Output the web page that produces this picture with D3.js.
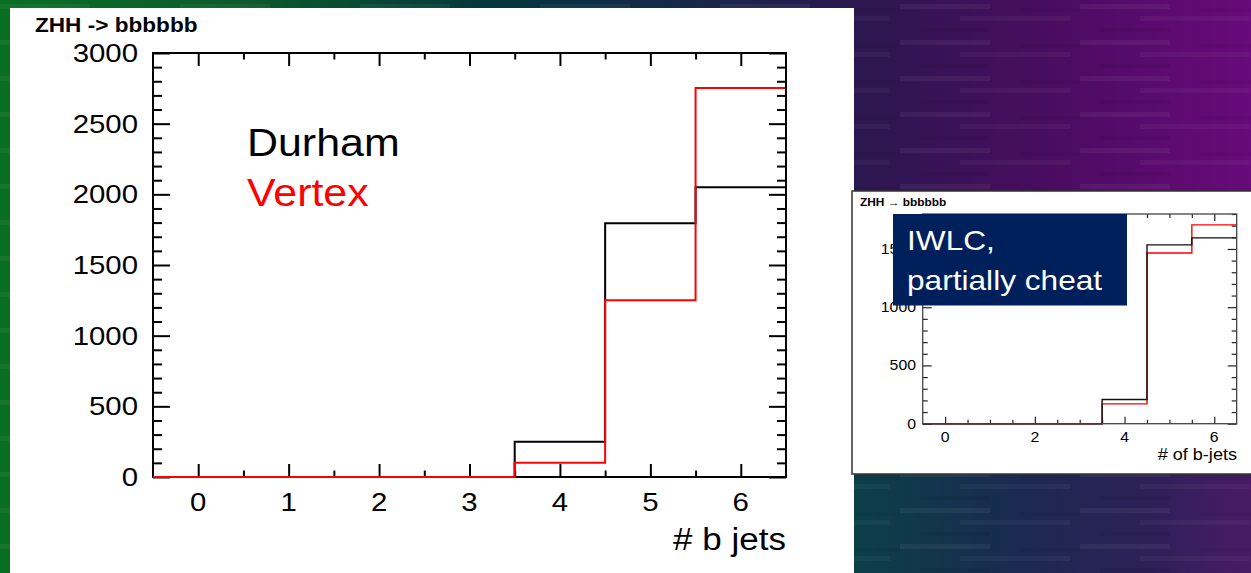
<!DOCTYPE html>
<html><head><meta charset="utf-8">
<script src="https://cdn.jsdelivr.net/npm/d3@7"></script>
<style>html,body{margin:0;padding:0;background:#000;}svg{display:block;}text{font-family:"Liberation Sans",Arial,sans-serif;}</style>
</head><body>
<svg id="c" width="1251" height="573"></svg>
<script>
// ---- data ----
const bins = [0, 1, 2, 3, 4, 5, 6];
const durham = [0, 0, 0, 0, 250, 1795, 2050];
const vertex = [0, 0, 0, 0, 100, 1250, 2752];
const yTicks = [0, 500, 1000, 1500, 2000, 2500, 3000];
const xTicks = [0, 1, 2, 3, 4, 5, 6];

const insetBlack = [0, 0, 0, 0, 208, 1535, 1595];
const insetRed = [0, 0, 0, 0, 170, 1465, 1707];
const insetYTicks = [0, 500, 1000, 1500];
const insetXTicks = [0, 2, 4, 6];

const svg = d3.select("#c");
const SX = 1.13;

// ---- background ----
const defs = svg.append("defs");
const g1 = defs.append("linearGradient").attr("id", "bgTop");
[[0, "#0a6e24"], [0.2, "#0a5a2c"], [0.4, "#04343e"], [0.55, "#16284a"], [0.7, "#2e1650"], [0.85, "#4c0c62"], [1, "#680a7a"]]
  .forEach(s => g1.append("stop").attr("offset", s[0]).attr("stop-color", s[1]));
const g2 = defs.append("linearGradient").attr("id", "bgBot");
[[0, "#0b4048"], [0.4, "#1a2a50"], [0.75, "#2e2058"], [1, "#4a1a66"]]
  .forEach(s => g2.append("stop").attr("offset", s[0]).attr("stop-color", s[1]));
const pat = defs.append("pattern").attr("id", "stripes").attr("patternUnits", "userSpaceOnUse")
  .attr("width", 180).attr("height", 36);
pat.append("rect").attr("x", 0).attr("y", 4).attr("width", 90).attr("height", 5).attr("fill", "#fff").attr("opacity", 0.05);
pat.append("rect").attr("x", 60).attr("y", 16).attr("width", 110).attr("height", 5).attr("fill", "#fff").attr("opacity", 0.04);
pat.append("rect").attr("x", 20).attr("y", 28).attr("width", 70).attr("height", 4).attr("fill", "#000").attr("opacity", 0.06);
pat.append("rect").attr("x", 120).attr("y", 8).attr("width", 60).attr("height", 4).attr("fill", "#000").attr("opacity", 0.05);

svg.append("rect").attr("width", 1251).attr("height", 573).attr("fill", "url(#bgTop)");
svg.append("rect").attr("x", 0).attr("y", 0).attr("width", 12).attr("height", 573).attr("fill", "#0a6e22");
svg.append("rect").attr("x", 852).attr("y", 474).attr("width", 399).attr("height", 99).attr("fill", "url(#bgBot)");
svg.append("rect").attr("width", 1251).attr("height", 573).attr("fill", "url(#stripes)");

// ---- text helper ----
function txt(g, x, y, s, size, opts = {}) {
  return g.append("text")
    .attr("transform", `translate(${x},${y}) scale(${SX},1)`)
    .attr("text-anchor", opts.anchor || "start")
    .attr("font-size", size)
    .attr("font-weight", opts.bold ? "bold" : "normal")
    .attr("fill", opts.fill || "#000")
    .text(s);
}

function histPts(vals) {
  const pts = vals.map((v, i) => [bins[i] - 0.5, v]);
  pts.push([bins[bins.length - 1] + 0.5, vals[vals.length - 1]]);
  return pts;
}

// ---- main panel ----
svg.append("rect").attr("x", 10).attr("y", 8).attr("width", 844).attr("height", 565).attr("fill", "#fff");

const x = d3.scaleLinear().domain([-0.5, 6.5]).range([153, 786]);
const y = d3.scaleLinear().domain([0, 3000]).range([477, 53]);
const main = svg.append("g");

const yMinor = d3.range(0, 3001, 100).filter(v => v % 500 !== 0);
const xMinor = d3.range(-0.5, 6.6, 1).filter(v => v > -0.5 && v < 6.5);

function tickAxes(g, xs, ys, xMaj, xMin, yMaj, yMin, L, col, w) {
  const [x0, x1] = xs.range(), [y0, y1] = ys.range();
  const a = [
    [d3.axisLeft(ys).tickValues(yMaj).tickSize(-L.yM), `translate(${x0},0)`],
    [d3.axisLeft(ys).tickValues(yMin).tickSize(-L.ym), `translate(${x0},0)`],
    [d3.axisRight(ys).tickValues(yMaj).tickSize(-L.yM), `translate(${x1},0)`],
    [d3.axisRight(ys).tickValues(yMin).tickSize(-L.ym), `translate(${x1},0)`],
    [d3.axisBottom(xs).tickValues(xMaj).tickSize(-L.xM), `translate(0,${y0})`],
    [d3.axisBottom(xs).tickValues(xMin).tickSize(-L.xm), `translate(0,${y0})`],
    [d3.axisTop(xs).tickValues(xMaj).tickSize(-L.xM), `translate(0,${y1})`],
    [d3.axisTop(xs).tickValues(xMin).tickSize(-L.xm), `translate(0,${y1})`]
  ];
  a.forEach(([ax, tr]) => {
    const gg = g.append("g").attr("transform", tr).call(ax.tickFormat("").tickSizeOuter(0));
    gg.select(".domain").remove();
    gg.selectAll("line").attr("stroke", col).attr("stroke-width", w);
  });
}

// histograms
const lineMain = d3.line().x(d => x(d[0])).y(d => y(d[1])).curve(d3.curveStepAfter);
main.append("path").attr("d", lineMain(histPts(durham))).attr("fill", "none").attr("stroke", "#000").attr("stroke-width", 2);
main.append("path").attr("d", lineMain(histPts(vertex))).attr("fill", "none").attr("stroke", "#ff0000").attr("stroke-width", 2);

tickAxes(main, x, y, xTicks, xMinor, yTicks, yMinor, { yM: 17, ym: 9, xM: 13, xm: 6.5 }, "#000", 2);

// frame
main.append("rect").attr("x", x(-0.5)).attr("y", y(3000)).attr("width", x(6.5) - x(-0.5)).attr("height", y(0) - y(3000))
  .attr("fill", "none").attr("stroke", "#000").attr("stroke-width", 2);
// redraw red baseline on top of frame bottom
main.append("path").attr("d", lineMain(histPts(vertex).slice(0, 5))).attr("fill", "none").attr("stroke", "#ff0000").attr("stroke-width", 2);

yTicks.forEach(v => txt(main, 138, y(v) + 9, v, 26, { anchor: "end" }));
xTicks.forEach(v => txt(main, x(v), 511, v, 26, { anchor: "middle" }));
txt(main, 786, 550, "# b jets", 31, { anchor: "end" });
txt(main, 35, 32, "ZHH -> bbbbbb", 20, { bold: true });
txt(main, 247, 156, "Durham", 38);
txt(main, 247, 206, "Vertex", 38, { fill: "#ff0000" });

// ---- inset ----
const ins = svg.append("g");
ins.append("rect").attr("x", 852).attr("y", 191).attr("width", 410).attr("height", 283)
  .attr("fill", "#fff").attr("stroke", "#333").attr("stroke-width", 1.5);
const xi = d3.scaleLinear().domain([-0.5, 6.5]).range([922.7, 1236.7]);
const yi = d3.scaleLinear().domain([0, 1800]).range([423.7, 214]);
const lineIns = d3.line().x(d => xi(d[0])).y(d => yi(d[1])).curve(d3.curveStepAfter);
ins.append("path").attr("d", lineIns(histPts(insetRed))).attr("fill", "none").attr("stroke", "#ff0000").attr("stroke-width", 1.4);
ins.append("path").attr("d", lineIns(histPts(insetBlack))).attr("fill", "none").attr("stroke", "#111").attr("stroke-width", 1.4);
const iyMinor = d3.range(0, 1801, 100).filter(v => v % 500 !== 0);
const ixMinor = d3.range(-0.5, 6.6, 0.5).filter(v => v > -0.5 && v < 6.5 && v % 2 !== 0);
tickAxes(ins, xi, yi, insetXTicks, ixMinor, insetYTicks, iyMinor, { yM: 9, ym: 5, xM: 7, xm: 4 }, "#222", 1.2);
ins.append("rect").attr("x", xi(-0.5)).attr("y", yi(1800)).attr("width", xi(6.5) - xi(-0.5)).attr("height", yi(0) - yi(1800))
  .attr("fill", "none").attr("stroke", "#444").attr("stroke-width", 1.3);
insetYTicks.forEach(v => txt(ins, 916, yi(v) + 5, v, 14, { anchor: "end" }));
insetXTicks.forEach(v => txt(ins, xi(v), 442, v, 14, { anchor: "middle" }));
txt(ins, 1237, 460, "# of b-jets", 16, { anchor: "end" });
txt(ins, 860, 206, "ZHH \u2192 bbbbbb", 10.5, { bold: true });

// label box
ins.append("rect").attr("x", 893).attr("y", 214).attr("width", 234).attr("height", 91.5).attr("fill", "#00205c");
txt(ins, 907, 250, "IWLC,", 28, { fill: "#fff" });
txt(ins, 907, 290, "partially cheat", 28, { fill: "#fff" });
</script>
</body></html>
